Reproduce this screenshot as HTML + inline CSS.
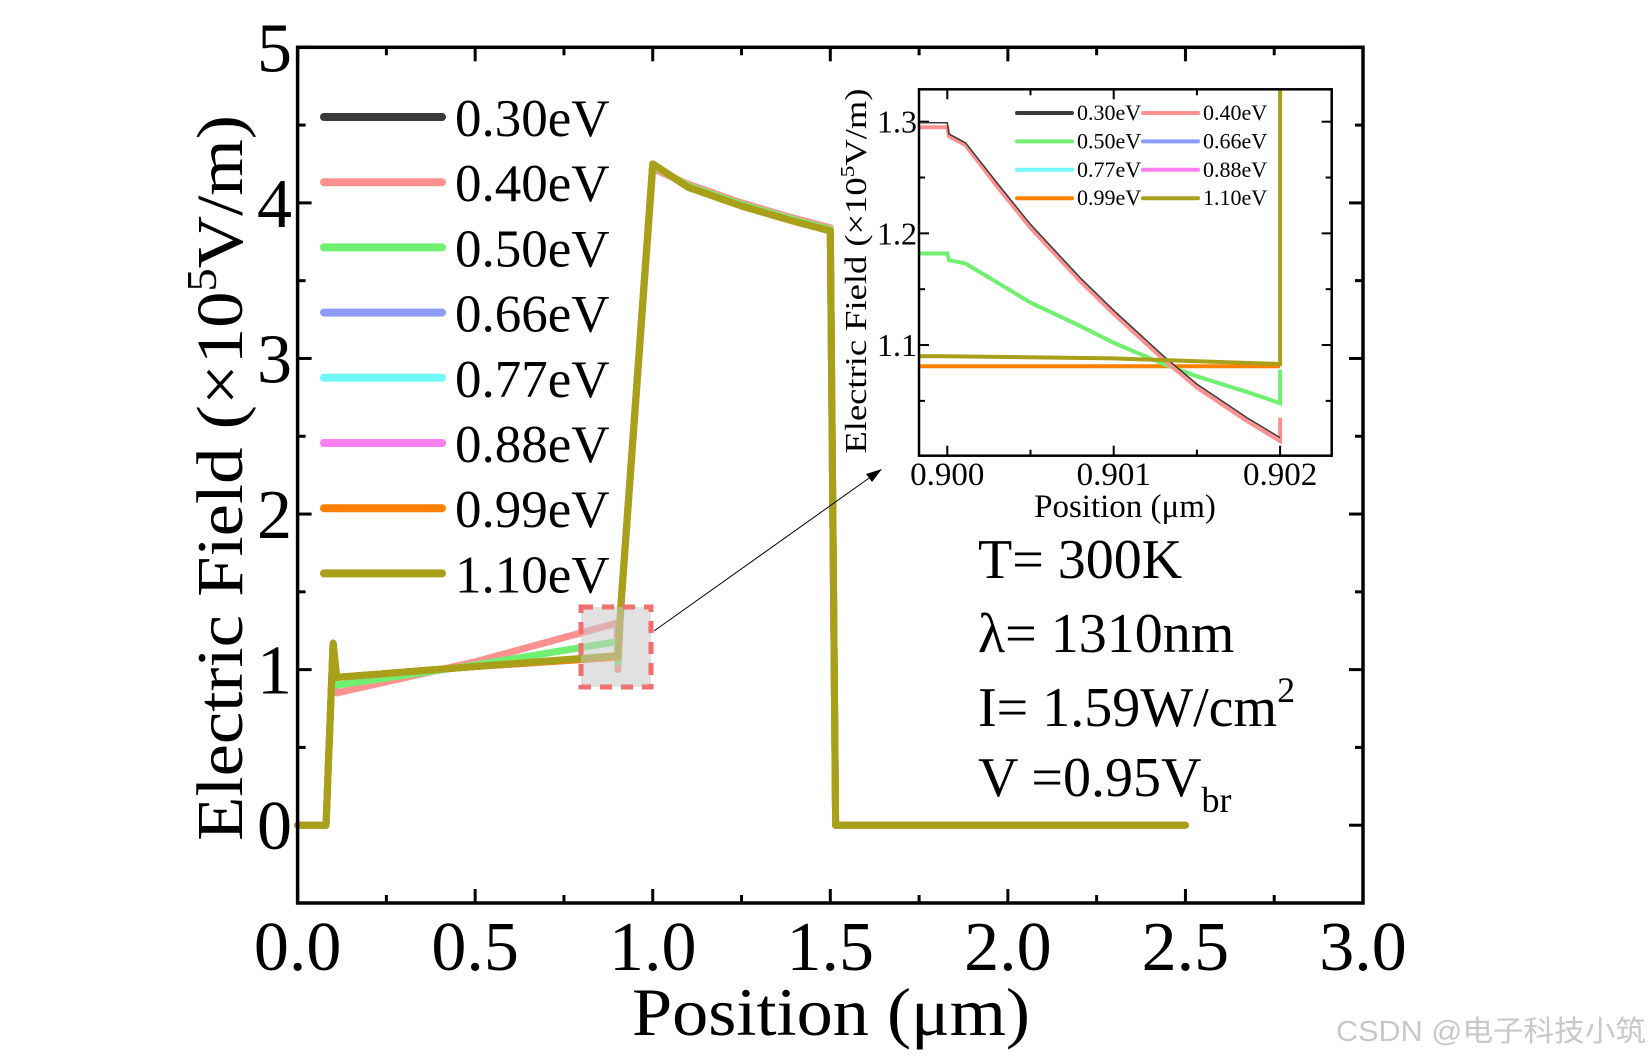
<!DOCTYPE html>
<html><head><meta charset="utf-8"><style>
html,body{margin:0;padding:0;background:#fff;}
svg{display:block;font-family:"Liberation Serif","Noto Serif CJK SC",serif;}
</style></head><body>
<svg id="chart" width="1649" height="1058" viewBox="0 0 1649 1058" xmlns="http://www.w3.org/2000/svg">
<g id="main"></g>
<g id="inset"></g>
<text x="1336" y="1041" font-family="Liberation Sans, Noto Sans CJK SC, sans-serif" font-size="29" fill="#c8c8c8" textLength="310" lengthAdjust="spacingAndGlyphs">CSDN @电子科技小筑</text>
</svg>
<script>
const NS='http://www.w3.org/2000/svg';
// ---- main chart data ----
const seriesNames=['0.30eV','0.40eV','0.50eV','0.66eV','0.77eV','0.88eV','0.99eV','1.10eV'];
const seriesColors=['#3a3a3a','#ff9090','#70f070','#8c9cf8','#70f8f8','#f880f0','#ff8000','#a8a018'];
const mainX=[0,0.08,0.1,0.11,0.5,0.9,0.902,0.91,1.0,1.1,1.25,1.4,1.5,1.515,2.5];
const mainY030=[0,0,1.17,0.86,1.05,1.30,1.01,1.4,4.22,4.12,4.00,3.90,3.84,0,0];
const mainY040=[0,0,1.17,0.85,1.05,1.30,1.00,1.4,4.22,4.12,4.00,3.90,3.84,0,0];
const mainY050=[0,0,1.17,0.90,1.03,1.18,1.05,1.4,4.24,4.11,3.99,3.89,3.83,0,0];
const mainY066=[0,0,1.17,0.95,1.02,1.08,1.08,1.4,4.25,4.10,3.98,3.88,3.82,0,0];
const mainY077=[0,0,1.17,0.95,1.02,1.08,1.08,1.4,4.25,4.10,3.98,3.88,3.82,0,0];
const mainY088=[0,0,1.17,0.95,1.02,1.08,1.08,1.4,4.25,4.10,3.98,3.88,3.82,0,0];
const mainY099=[0,0,1.17,0.95,1.02,1.08,1.08,1.4,4.25,4.10,3.98,3.88,3.82,0,0];
const mainY110=[0,0,1.17,0.95,1.02,1.09,1.09,1.4,4.25,4.10,3.98,3.88,3.82,0,0];
const mainSeries=[mainY030,mainY040,mainY050,mainY066,mainY077,mainY088,mainY099,mainY110];
const xTicks=[0,0.5,1,1.5,2,2.5,3];
const xTickLabels=['0.0','0.5','1.0','1.5','2.0','2.5','3.0'];
const yTicks=[0,1,2,3,4,5];
const yTickLabels=['0','1','2','3','4','5'];
// ---- inset data ----
const inX030=[0.89983,0.9,0.90001,0.90011,0.9003,0.9005,0.9008,0.901,0.9013,0.9015,0.9018,0.902,0.902];
const inY030=[1.299,1.299,1.289,1.281,1.245,1.208,1.160,1.131,1.090,1.065,1.035,1.017,1.017];
const inX040=[0.89983,0.9,0.90001,0.90011,0.9003,0.9005,0.9008,0.901,0.9013,0.9015,0.9018,0.902,0.902];
const inY040=[1.295,1.295,1.287,1.279,1.242,1.205,1.157,1.128,1.087,1.062,1.032,1.014,1.035];
const inX050=[0.89983,0.9,0.90001,0.90011,0.9003,0.9005,0.9008,0.901,0.9013,0.9015,0.9018,0.902,0.902];
const inY050=[1.182,1.182,1.176,1.173,1.156,1.138,1.117,1.102,1.083,1.072,1.058,1.048,1.078];
const inX099=[0.89983,0.9,0.902];
const inY099=[1.081,1.081,1.081];
const inX110=[0.89983,0.9,0.901,0.902,0.902];
const inY110=[1.090,1.090,1.088,1.083,1.35];
const inXTicks=[0.9,0.901,0.902];
const inXTickLabels=['0.900','0.901','0.902'];
const inYTicks=[1.1,1.2,1.3];
const inYTickLabels=['1.1','1.2','1.3'];

function el(tag,attrs,parent){const e=document.createElementNS(NS,tag);for(const k in attrs)e.setAttribute(k,attrs[k]);parent.appendChild(e);return e;}

const M={l:297.6,r:1363,t:47.3,b:903,x0:0,x1:3,y0:-0.5,y1:5};
const mx=v=>M.l+(v-M.x0)/(M.x1-M.x0)*(M.r-M.l);
const my=v=>M.b-(v-M.y0)/(M.y1-M.y0)*(M.b-M.t);
const g=document.getElementById('main');
for(let v=0;v<=3.001;v+=0.25){const maj=Math.abs(v*2-Math.round(v*2))<1e-6;const L=maj?14:8;
 const t1=el('line',{x1:mx(v),x2:mx(v),y1:M.b,y2:M.b-L,stroke:'#000','stroke-width':3},g);
 
 const t2=el('line',{x1:mx(v),x2:mx(v),y1:M.t,y2:M.t+L,stroke:'#000','stroke-width':3},g);
 }
for(let v=-0.5;v<=5.001;v+=0.5){const maj=Math.abs(v-Math.round(v))<1e-6;const L=maj?14:8;
 const t1=el('line',{x1:M.l,x2:M.l+L,y1:my(v),y2:my(v),stroke:'#000','stroke-width':3},g);
 
 const t2=el('line',{x1:M.r,x2:M.r-L,y1:my(v),y2:my(v),stroke:'#000','stroke-width':3},g);
 }
xTicks.forEach((v,i)=>{const t=el('text',{x:mx(v),y:970,'font-size':70,'text-anchor':'middle'},g);t.textContent=xTickLabels[i];
 });
yTicks.forEach((v,i)=>{const t=el('text',{x:292,y:my(v)+24,'font-size':70,'text-anchor':'end'},g);t.textContent=yTickLabels[i];
 });
mainSeries.forEach((ys,i)=>{const pts=mainX.map((x,j)=>mx(x)+','+my(ys[j])).join(' ');
 const p=el('polyline',{points:pts,fill:'none',stroke:seriesColors[i],'stroke-width':i===0?3:7,'stroke-linejoin':'round','stroke-linecap':'round'},g);
 });
const fr=el('rect',{x:M.l,y:M.t,width:M.r-M.l,height:M.b-M.t,fill:'none',stroke:'#000','stroke-width':3.5},g);

const zb=el('rect',{x:581,y:607,width:70,height:80,fill:'rgba(200,200,200,0.55)',stroke:'#f07070','stroke-width':5,'stroke-dasharray':'12,9'},g);

const ar=el('line',{x1:654,y1:631,x2:872,y2:476,stroke:'#000','stroke-width':1},g);

const ah=el('polygon',{points:'882,469 866,474 872,482',fill:'#000'},g);

seriesNames.forEach((n,i)=>{const y=117+i*65.2;
 const l=el('line',{x1:324,x2:442,y1:y,y2:y,stroke:seriesColors[i],'stroke-width':8,'stroke-linecap':'round'},g);
 
 const t=el('text',{x:455,y:y+19,'font-size':53},g);t.textContent=n;
 });
const xt=el('text',{x:831,y:1035,'font-size':68,'text-anchor':'middle',textLength:398,lengthAdjust:'spacingAndGlyphs'},g);
xt.textContent='Position (μm)';
const yt=el('text',{x:0,y:0,'font-size':66,'text-anchor':'middle',transform:'translate(242,478) rotate(-90)',textLength:726,lengthAdjust:'spacingAndGlyphs'},g);
yt.innerHTML='Electric Field (×10<tspan dy="-26" font-size="42">5</tspan><tspan dy="26">V/m)</tspan>';

const ann=[['T= 300K',578],['λ= 1310nm',652],['I= 1.59W/cm<tspan dy="-24" font-size="36">2</tspan>',726],['V =0.95V<tspan dy="16" font-size="36">br</tspan>',796]];
ann.forEach(a=>{const t=el('text',{x:978,y:a[1],'font-size':56},g);t.innerHTML=a[0];
 });

const I={l:919,r:1331.7,t:89.3,b:455.7,x0:0.89983,x1:0.90231,y0:1.0009,y1:1.329};
const ix=v=>I.l+(v-I.x0)/(I.x1-I.x0)*(I.r-I.l);
const iy=v=>I.b-(v-I.y0)/(I.y1-I.y0)*(I.b-I.t);
const h=document.getElementById('inset');
const clip=el('clipPath',{id:'ic'},h);el('rect',{x:I.l,y:I.t,width:I.r-I.l,height:I.b-I.t},clip);
for(let k=0;k<=4;k++){const v=0.9+k*0.0005;const L=k%2===0?10:6;
 const a=el('line',{x1:ix(v),x2:ix(v),y1:I.b,y2:I.b-L,stroke:'#000','stroke-width':2},h);
 
 const b=el('line',{x1:ix(v),x2:ix(v),y1:I.t,y2:I.t+L,stroke:'#000','stroke-width':2},h);
 }
for(let k=0;k<=6;k++){const v=1.0+k*0.05;if(v<I.y0||v>I.y1)continue;const L=k%2===0?10:6;
 const a=el('line',{x1:I.l,x2:I.l+L,y1:iy(v),y2:iy(v),stroke:'#000','stroke-width':2},h);
 
 const b=el('line',{x1:I.r,x2:I.r-L,y1:iy(v),y2:iy(v),stroke:'#000','stroke-width':2},h);
 }
inXTicks.forEach((v,i)=>{const t=el('text',{x:ix(v),y:485,'font-size':33,'text-anchor':'middle'},h);t.textContent=inXTickLabels[i];
 });
inYTicks.forEach((v,i)=>{const t=el('text',{x:917,y:iy(v)+11,'font-size':32,'text-anchor':'end'},h);t.textContent=inYTickLabels[i];
 });
const inSeries=[[inX099,inY099,6,4],[inX050,inY050,2,4],[inX040,inY040,1,4],[inX030,inY030,0,1.5],[inX110,inY110,7,4]];
const ig=el('g',{'clip-path':'url(#ic)'},h);
inSeries.forEach(s=>{const pts=s[0].map((x,j)=>ix(x)+','+iy(s[1][j])).join(' ');
 const p=el('polyline',{points:pts,fill:'none',stroke:seriesColors[s[2]],'stroke-width':s[3]},ig);
 });
const ifr=el('rect',{x:I.l,y:I.t,width:I.r-I.l,height:I.b-I.t,fill:'none',stroke:'#000','stroke-width':2.5},h);

seriesNames.forEach((n,i)=>{const col=i%2,row=Math.floor(i/2);const y=113+row*28.4;const x0=col?1143:1017;
 const l=el('line',{x1:x0,x2:x0+55,y1:y,y2:y,stroke:seriesColors[i],'stroke-width':4,'stroke-linecap':'round'},h);
 
 const t=el('text',{x:x0+60,y:y+7,'font-size':22},h);t.textContent=n;
 });
const ixt=el('text',{x:1125,y:517,'font-size':33,'text-anchor':'middle'},h);ixt.textContent='Position (μm)';

const iyt=el('text',{x:0,y:0,'font-size':31,'text-anchor':'middle',transform:'translate(866,271) rotate(-90)',textLength:365,lengthAdjust:'spacingAndGlyphs'},h);
iyt.innerHTML='Electric Field (×10<tspan dy="-12" font-size="20">5</tspan><tspan dy="12">V/m)</tspan>';

</script>
</body></html>
